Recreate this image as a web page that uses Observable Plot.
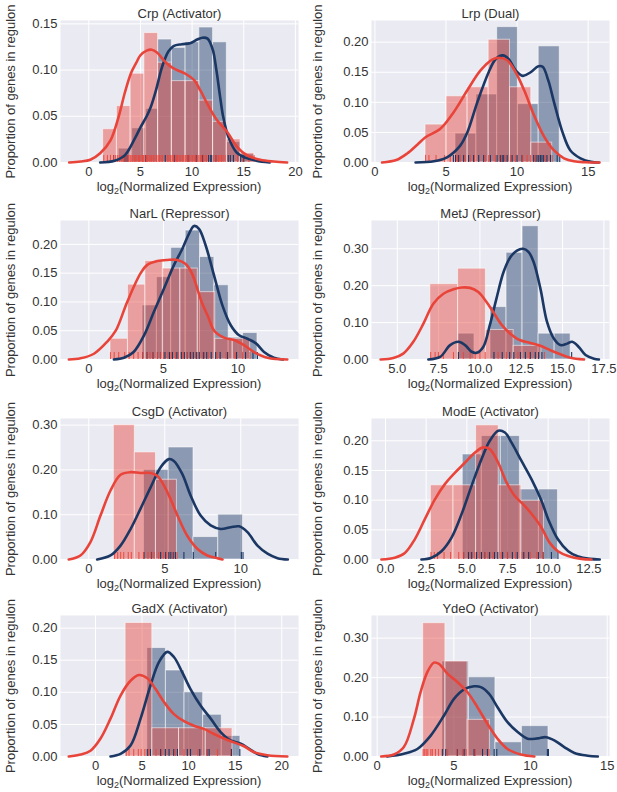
<!DOCTYPE html>
<html>
<head>
<meta charset="utf-8">
<script src="https://cdn.jsdelivr.net/npm/d3@7"></script>
<script src="https://cdn.jsdelivr.net/npm/@observablehq/plot@0.6"></script>
<style>
  body { margin: 0; background: #fff; }
  #chart { position: relative; width: 617px; height: 792px; background: #fff; overflow: hidden; }
  .panel { position: absolute; }
</style>
</head>
<body>
<div id="chart"></div>
<script>
// ---------- Crp (Activator) ----------
const crpXTicks = [0, 5, 10, 15, 20];
const crpYTicks = [0, 0.05, 0.10, 0.15];
const crpRedEdges = [1.39, 2.72, 4.05, 5.38, 6.71, 8.04, 9.37, 10.7, 12.03, 13.36, 14.69, 16.02];
const crpRedHeights = [0.036, 0.061, 0.096, 0.140, 0.108, 0.088, 0.088, 0.067, 0.044, 0.025, 0.010];
const crpBlueEdges = [2.9, 4.2, 5.55, 6.71, 8.04, 9.37, 10.7, 12.03, 13.36, 14.69, 16.02];
const crpBlueHeights = [0.015, 0.037, 0.058, 0.133, 0.124, 0.130, 0.146, 0.130, 0.022, 0.009];
const crpRedKde = [[-1.9,0],[-0.8,0.001],[0.15,0.003],[1.1,0.010],[2.1,0.024],[2.9,0.05],[3.5,0.076],[4.1,0.097],[4.6,0.108],[5.0,0.116],[5.6,0.121],[6.1,0.122],[6.6,0.119],[7.3,0.110],[7.9,0.104],[8.55,0.100],[9.35,0.096],[10.2,0.089],[10.8,0.078],[11.45,0.064],[12.4,0.046],[13.4,0.033],[14.35,0.017],[15.3,0.008],[16.6,0.003],[17.9,0.001],[19.2,0]];
const crpBlueKde = [[1.1,0],[2.5,0.002],[3.5,0.008],[4.5,0.027],[5.0,0.038],[5.6,0.05],[6.0,0.06],[6.5,0.078],[7.0,0.10],[7.3,0.11],[7.7,0.12],[8.2,0.126],[9.0,0.128],[9.8,0.129],[10.5,0.133],[11.0,0.135],[11.5,0.134],[12.0,0.122],[12.35,0.10],[12.7,0.072],[13.0,0.05],[13.5,0.028],[14.3,0.011],[15.2,0.005],[16.2,0.002],[17.5,0]];
const crpRedRug = [1.45, 1.8, 2.1, 2.4, 2.6, 2.8, 3.0, 3.2, 3.35, 3.5, 3.7, 3.85, 4.0, 4.1, 4.25, 4.4, 4.5, 4.65, 4.8, 4.9, 5.05, 5.2, 5.3, 5.45, 5.6, 5.7, 5.85, 6.0, 6.1, 6.25, 6.4, 6.55, 6.7, 6.85, 7.0, 7.15, 7.6, 7.75, 7.9, 8.05, 8.2, 8.35, 8.5, 8.6, 8.75, 8.9, 9.05, 9.2, 9.35, 9.5, 9.6, 9.75, 9.9, 10.05, 10.2, 10.35, 10.5, 10.65, 10.8, 10.95, 11.1, 11.25, 11.4, 12.1, 12.25, 12.4, 12.55, 12.7, 12.85, 13.0, 13.2, 14.4, 14.9, 15.5, 16.0];
const crpBlueRug = [2.4, 3.5, 3.7, 5.5, 7.4, 8.3, 9.6, 10.4, 11.0, 11.6, 11.8, 11.9, 12.3, 13.5, 13.7, 14.0, 14.7, 15.0];

// ---------- Lrp (Dual) ----------
const lrpXTicks = [0, 5, 10, 15];
const lrpYTicks = [0, 0.05, 0.10, 0.15, 0.20];
const lrpRedEdges = [3.56, 5.04, 6.52, 8.0, 9.5, 11.0, 12.47];
const lrpRedHeights = [0.063, 0.110, 0.125, 0.204, 0.125, 0.033];
const lrpBlueEdges = [5.67, 7.14, 8.6, 10.06, 11.52, 13.0];
const lrpBlueHeights = [0.048, 0.113, 0.225, 0.097, 0.193];
const lrpRedKde = [[0.5,0],[1.5,0.004],[2.27,0.015],[3.0,0.03],[3.56,0.042],[4.6,0.056],[5.55,0.084],[6.5,0.12],[7.43,0.153],[8.25,0.171],[8.7,0.174],[9.3,0.170],[9.9,0.15],[10.5,0.12],[11.2,0.078],[11.9,0.043],[12.6,0.02],[13.3,0.007],[14.0,0.002],[14.8,0.0005],[15.8,0]];
const lrpBlueKde = [[2.86,0],[4.15,0.002],[5.1,0.009],[6.0,0.028],[6.5,0.05],[7.2,0.10],[8.0,0.15],[8.5,0.172],[9.0,0.178],[9.4,0.172],[9.9,0.153],[10.4,0.144],[10.95,0.150],[11.5,0.160],[11.8,0.159],[12.2,0.136],[12.6,0.10],[13.2,0.05],[13.75,0.02],[14.46,0.007],[15.2,0.001],[15.75,0]];
const lrpRedRug = [3.56, 3.8, 4.3, 4.9, 5.3, 5.8, 6.0, 6.36, 6.7, 7.0, 7.76, 8.0, 8.47, 8.9, 9.2, 9.53, 9.88, 10.4, 10.7, 10.95, 11.3, 12.0, 12.47];
const lrpBlueRug = [5.52, 5.67, 5.89, 6.24, 6.59, 6.94, 7.3, 7.65, 8.12, 8.59, 8.82, 8.95, 9.06, 9.3, 9.65, 10.0, 10.35, 11.17, 11.3, 11.4, 11.52, 11.64, 11.75, 11.87, 12.1, 12.35, 12.82, 13.0];

// ---------- NarL (Repressor) ----------
const narlXTicks = [0, 5, 10];
const narlYTicks = [0, 0.05, 0.10, 0.15, 0.20];
const narlRedEdges = [1.45, 2.62, 3.79, 4.96, 6.13, 7.3, 8.47, 9.64, 10.81];
const narlRedHeights = [0.036, 0.130, 0.171, 0.158, 0.158, 0.117, 0.036, 0.036];
const narlBlueEdges = [3.6, 4.56, 5.52, 6.49, 7.45, 8.41, 9.37, 10.34, 11.3];
const narlBlueHeights = [0.094, 0.143, 0.194, 0.224, 0.178, 0.129, 0.038, 0.046];
const narlRedKde = [[-1.34,0],[-0.56,0.002],[0.34,0.010],[1.23,0.031],[1.8,0.05],[2.57,0.10],[3.47,0.15],[3.9,0.164],[4.59,0.171],[5.26,0.173],[5.93,0.173],[6.49,0.166],[6.9,0.15],[7.56,0.10],[8.0,0.074],[8.4,0.05],[9.06,0.038],[9.73,0.034],[10.4,0.025],[11.07,0.013],[11.97,0.003],[13.3,0]];
const narlBlueKde = [[1.68,0],[2.35,0.003],[3.0,0.013],[3.7,0.042],[4.36,0.083],[5.03,0.123],[5.7,0.164],[6.26,0.192],[6.7,0.218],[7.05,0.232],[7.38,0.227],[7.83,0.198],[8.39,0.146],[8.95,0.094],[9.5,0.06],[10.07,0.042],[10.63,0.036],[11.2,0.028],[11.74,0.013],[12.4,0.003],[13.0,0]];
const narlRedRug = [1.45, 1.7, 2.0, 2.4, 2.7, 3.0, 3.3, 3.6, 3.9, 4.1, 4.3, 4.6, 4.8, 5.0, 5.3, 5.5, 5.8, 6.0, 6.3, 6.6, 6.9, 7.3, 7.6, 8.0, 8.6, 9.2, 9.8, 10.3, 10.8];
const narlBlueRug = [3.6, 3.9, 4.3, 4.6, 4.8, 5.1, 5.4, 5.6, 5.9, 6.2, 6.4, 6.6, 6.8, 7.0, 7.2, 7.4, 7.7, 7.9, 8.2, 8.5, 8.8, 9.3, 9.9, 10.5, 11.0, 11.3];

// ---------- MetJ (Repressor) ----------
const metjXTicks = [5, 7.5, 10, 12.5, 15, 17.5];
const metjYTicks = [0, 0.10, 0.20, 0.30];
const metjRedEdges = [7.0, 8.68, 10.36, 12.04, 13.72];
const metjRedHeights = [0.204, 0.246, 0.080, 0.037];
const metjBlueEdges = [8.7, 9.67, 10.64, 11.61, 12.58, 13.55, 14.52, 15.49];
const metjBlueHeights = [0.07, 0, 0.142, 0.289, 0.361, 0.07, 0.07];
const metjRedKde = [[3.99,0],[4.76,0.004],[5.36,0.016],[5.97,0.048],[6.58,0.097],[7.18,0.151],[7.79,0.178],[8.4,0.19],[8.9,0.195],[9.4,0.194],[9.9,0.183],[10.4,0.156],[10.8,0.129],[11.33,0.093],[11.84,0.07],[12.44,0.052],[13.05,0.045],[13.66,0.037],[14.26,0.025],[14.87,0.014],[15.48,0.005],[16.3,0]];
const metjBlueKde = [[6.88,0],[7.59,0.007],[8.2,0.039],[8.7,0.048],[9.1,0.039],[9.5,0.021],[9.8,0.018],[10.2,0.034],[10.6,0.093],[11.0,0.165],[11.43,0.237],[11.84,0.277],[12.24,0.295],[12.6,0.30],[12.95,0.291],[13.25,0.264],[13.66,0.192],[14.06,0.102],[14.47,0.057],[14.87,0.039],[15.28,0.043],[15.58,0.048],[15.98,0.034],[16.39,0.012],[16.9,0.002],[17.2,0]];
const metjRedRug = [7.02, 7.29, 7.49, 7.79, 8.4, 9.0, 9.41, 9.71, 10.0, 10.32, 11.1, 11.6, 12.3, 13.0, 13.9];
const metjBlueRug = [8.7, 10.85, 11.35, 11.8, 12.05, 12.45, 12.75, 13.05, 13.35, 13.55, 13.75, 15.55];

// ---------- CsgD (Activator) ----------
const csgdXTicks = [0, 5, 10];
const csgdYTicks = [0, 0.10, 0.20, 0.30];
const csgdRedEdges = [1.65, 3.03, 4.42, 5.8];
const csgdRedHeights = [0.30, 0.239, 0.178];
const csgdBlueEdges = [3.63, 5.26, 6.89, 8.52, 10.15];
const csgdBlueHeights = [0.20, 0.25, 0.05, 0.10];
const csgdRedKde = [[-1.32,0],[-0.55,0.009],[0.11,0.039],[0.77,0.098],[1.43,0.154],[2.09,0.189],[2.75,0.195],[3.4,0.193],[4.07,0.193],[4.5,0.187],[4.95,0.165],[5.38,0.135],[5.93,0.091],[6.48,0.053],[7.14,0.024],[7.8,0.009],[8.46,0.003],[8.8,0]];
const csgdBlueKde = [[0.55,0],[1.43,0.009],[2.09,0.031],[2.75,0.068],[3.4,0.113],[4.07,0.161],[4.73,0.206],[5.27,0.224],[5.6,0.22],[6.15,0.191],[6.7,0.143],[7.36,0.098],[8.02,0.076],[8.68,0.068],[9.34,0.072],[9.89,0.074],[10.44,0.061],[11.1,0.031],[11.76,0.013],[12.42,0.003],[13.1,0]];
const csgdRedRug = [1.7, 1.9, 2.1, 2.3, 2.6, 2.8, 3.3, 3.6, 3.9, 4.1, 4.3, 4.6, 4.9, 5.1, 5.5, 5.8];
const csgdBlueRug = [3.63, 4.13, 4.73, 5.05, 5.27, 5.4, 5.55, 5.7, 6.26, 6.88, 8.35, 10.04, 10.15];

// ---------- ModE (Activator) ----------
const modeXTicks = [0, 2.5, 5, 7.5, 10, 12.5];
const modeYTicks = [0, 0.05, 0.10, 0.15, 0.20];
const modeRedEdges = [2.79, 4.18, 5.57, 6.96, 8.35, 9.74];
const modeRedHeights = [0.125, 0.125, 0.226, 0.125, 0.099];
const modeBlueEdges = [4.75, 5.92, 7.09, 8.26, 9.43, 10.6];
const modeBlueHeights = [0.177, 0.208, 0.208, 0.118, 0.118];
const modeRedKde = [[-0.25,0],[0.57,0.003],[1.19,0.011],[1.8,0.034],[2.42,0.068],[3.03,0.101],[3.65,0.127],[4.26,0.146],[4.88,0.163],[5.49,0.18],[6.0,0.189],[6.41,0.186],[6.93,0.163],[7.44,0.13],[7.95,0.107],[8.57,0.09],[9.18,0.07],[9.59,0.054],[10.1,0.028],[10.6,0.014],[11.23,0.006],[12.05,0.001],[12.66,0]];
const modeBlueKde = [[2.21,0],[2.83,0.003],[3.44,0.014],[4.06,0.037],[4.67,0.076],[5.29,0.124],[5.9,0.169],[6.41,0.2],[6.93,0.217],[7.34,0.214],[7.75,0.197],[8.36,0.166],[8.98,0.135],[9.59,0.099],[10.0,0.068],[10.6,0.034],[11.23,0.014],[11.84,0.005],[12.56,0.001],[13.17,0]];
const modeRedRug = [2.8, 3.0, 3.2, 3.6, 4.0, 4.5, 4.8, 5.2, 5.5, 5.8, 6.1, 6.3, 6.6, 7.1, 7.5, 8.0, 8.4, 8.9, 9.3, 9.7];
const modeBlueRug = [4.8, 5.1, 5.3, 5.6, 5.9, 6.1, 6.4, 6.7, 6.9, 7.2, 7.5, 7.8, 8.1, 8.5, 8.8, 9.4, 9.7, 10.2, 10.6];

// ---------- GadX (Activator) ----------
const gadxXTicks = [0, 5, 10, 15, 20];
const gadxYTicks = [0, 0.05, 0.10, 0.15, 0.20];
const gadxRedEdges = [3.23, 6.1, 8.97, 11.84, 14.71];
const gadxRedHeights = [0.208, 0.044, 0.044, 0.044];
const gadxBlueEdges = [5.56, 7.56, 9.56, 11.56, 13.56, 15.56];
const gadxBlueHeights = [0.169, 0.134, 0.10, 0.065, 0.032];
const gadxRedKde = [[-2.87,0],[-1.6,0.003],[-0.54,0.009],[0.54,0.028],[1.61,0.059],[2.69,0.095],[3.76,0.118],[4.66,0.127],[5.56,0.122],[6.45,0.105],[7.35,0.085],[8.42,0.066],[9.5,0.055],[10.57,0.048],[11.65,0.043],[12.72,0.035],[13.8,0.028],[14.87,0.022],[15.95,0.016],[17.0,0.007],[18.46,0.002],[20.6,0]];
const gadxBlueKde = [[1.61,0],[2.69,0.004],[3.76,0.017],[4.84,0.059],[5.91,0.111],[6.81,0.147],[7.7,0.163],[8.42,0.155],[9.32,0.131],[10.2,0.105],[11.3,0.079],[12.37,0.059],[13.44,0.038],[14.5,0.025],[15.6,0.02],[16.5,0.012],[17.4,0.004],[18.46,0]];
const gadxRedRug = [3.3, 3.6, 4.1, 4.6, 4.9, 5.3, 5.7, 6.5, 7.1, 8.6, 9.5, 11.0, 12.0, 13.1, 14.5];
const gadxBlueRug = [5.56, 5.9, 7.0, 7.5, 7.9, 8.4, 8.8, 9.86, 10.2, 11.2, 12.0, 12.2, 14.6, 15.5];

// ---------- YdeO (Activator) ----------
const ydeoXTicks = [0, 5, 10, 15];
const ydeoYTicks = [0, 0.10, 0.20, 0.30];
const ydeoRedEdges = [3.0, 4.45, 5.9, 7.35];
const ydeoRedHeights = [0.338, 0.241, 0.093];
const ydeoBlueEdges = [4.25, 5.98, 7.71, 9.44, 11.17];
const ydeoBlueHeights = [0.241, 0.201, 0.036, 0.077];
const ydeoRedKde = [[0.26,0],[1.09,0.005],[1.74,0.024],[2.4,0.096],[2.83,0.163],[3.27,0.214],[3.7,0.238],[4.03,0.235],[4.58,0.21],[5.23,0.189],[5.89,0.163],[6.54,0.125],[7.19,0.083],[7.85,0.045],[8.5,0.019],[9.37,0.005],[10.25,0]];
const ydeoBlueKde = [[0.65,0],[1.74,0.007],[2.62,0.019],[3.49,0.053],[4.36,0.104],[5.01,0.146],[5.67,0.17],[6.32,0.178],[6.76,0.176],[7.3,0.159],[7.85,0.125],[8.5,0.087],[9.16,0.062],[9.81,0.045],[10.46,0.046],[11.0,0.049],[11.55,0.041],[12.2,0.024],[12.86,0.009],[13.73,0.002],[14.39,0]];
const ydeoRedRug = [3.0, 3.1, 3.2, 3.3, 3.5, 3.6, 3.8, 4.0, 4.6, 5.2, 5.56, 5.8, 6.4, 7.3];
const ydeoBlueRug = [4.25, 4.47, 5.23, 5.67, 6.32, 6.87, 7.19, 7.63, 7.8, 11.1, 11.17];

const titles = ["Crp (Activator)", "Lrp (Dual)", "NarL (Repressor)", "MetJ (Repressor)", "CsgD (Activator)", "ModE (Activator)", "GadX (Activator)", "YdeO (Activator)"];
const yLabel = "Proportion of genes in regulon";

// ---------- styling / layout ----------
const RED = "#e9443a";
const BLUE = "#1b3764";
const BG = "#eaeaf2";
const TXT = "#333333";
const FONT = '"Liberation Sans", Arial, Helvetica, sans-serif';

const rowTop = [0, 197, 395, 592];
const rowH = [197, 198, 197, 200];
const rowMT = [20, 23, 23, 23];
const rowMB = [35, 36, 33, 36];
const colLeft = [0, 308];
const colW = [308, 309];
const colML = [60, 63];
const colMR = [10, 8];
const colYLabDx = [-50, -54];

const panels = [
  {t: 0, r: 0, c: 0, xd: [-2.74, 20.3], ym: 0.1536, xt: crpXTicks, yt: crpYTicks, xf: "d", re: crpRedEdges, rh: crpRedHeights, be: crpBlueEdges, bh: crpBlueHeights, rk: crpRedKde, bk: crpBlueKde, rr: crpRedRug, br: crpBlueRug},
  {t: 1, r: 0, c: 1, xd: [-0.24, 16.5], ym: 0.236, xt: lrpXTicks, yt: lrpYTicks, xf: "d", re: lrpRedEdges, rh: lrpRedHeights, be: lrpBlueEdges, bh: lrpBlueHeights, rk: lrpRedKde, bk: lrpBlueKde, rr: lrpRedRug, br: lrpBlueRug},
  {t: 2, r: 1, c: 0, xd: [-1.9, 14.05], ym: 0.2415, xt: narlXTicks, yt: narlYTicks, xf: "d", re: narlRedEdges, rh: narlRedHeights, be: narlBlueEdges, bh: narlBlueHeights, rk: narlRedKde, bk: narlBlueKde, rr: narlRedRug, br: narlBlueRug},
  {t: 3, r: 1, c: 1, xd: [3.44, 17.84], ym: 0.3765, xt: metjXTicks, yt: metjYTicks, xf: ".1f", re: metjRedEdges, rh: metjRedHeights, be: metjBlueEdges, bh: metjBlueHeights, rk: metjRedKde, bk: metjBlueKde, rr: metjRedRug, br: metjBlueRug},
  {t: 4, r: 2, c: 0, xd: [-1.86, 13.8], ym: 0.3147, xt: csgdXTicks, yt: csgdYTicks, xf: "d", re: csgdRedEdges, rh: csgdRedHeights, be: csgdBlueEdges, bh: csgdBlueHeights, rk: csgdRedKde, bk: csgdBlueKde, rr: csgdRedRug, br: csgdBlueRug},
  {t: 5, r: 2, c: 1, xd: [-0.86, 13.77], ym: 0.2376, xt: modeXTicks, yt: modeYTicks, xf: ".1f", re: modeRedEdges, rh: modeRedHeights, be: modeBlueEdges, bh: modeBlueHeights, rk: modeRedKde, bk: modeBlueKde, rr: modeRedRug, br: modeBlueRug},
  {t: 6, r: 3, c: 0, xd: [-3.76, 21.8], ym: 0.2197, xt: gadxXTicks, yt: gadxYTicks, xf: "d", re: gadxRedEdges, rh: gadxRedHeights, be: gadxBlueEdges, bh: gadxBlueHeights, rk: gadxRedKde, bk: gadxBlueKde, rr: gadxRedRug, br: gadxBlueRug},
  {t: 7, r: 3, c: 1, xd: [-0.37, 15.15], ym: 0.3575, xt: ydeoXTicks, yt: ydeoYTicks, xf: "d", re: ydeoRedEdges, rh: ydeoRedHeights, be: ydeoBlueEdges, bh: ydeoBlueHeights, rk: ydeoRedKde, bk: ydeoBlueKde, rr: ydeoRedRug, br: ydeoBlueRug}
];

function bins(edges, heights) {
  return heights.map((h, i) => ({x1: edges[i], x2: edges[i + 1], y: h}));
}

const chart = document.getElementById("chart");

for (const p of panels) {
  const W = colW[p.c], H = rowH[p.r];
  const mt = rowMT[p.r], mb = rowMB[p.r], ml = colML[p.c], mr = colMR[p.c];
  const rugH = p.ym * 0.05;
  const histStyle = {stroke: "#ffffff", strokeOpacity: 0.55, strokeWidth: 1, fillOpacity: 0.45};
  const svg = Plot.plot({
    width: W, height: H,
    marginTop: mt, marginBottom: mb, marginLeft: ml, marginRight: mr,
    style: {fontFamily: FONT, fontSize: "13px", background: "transparent", color: TXT, overflow: "visible"},
    x: {domain: p.xd},
    y: {domain: [0, p.ym]},
    marks: [
      Plot.frame({fill: BG, stroke: "none"}),
      Plot.gridX(p.xt, {stroke: "#ffffff", strokeOpacity: 1, strokeWidth: 1}),
      Plot.gridY(p.yt, {stroke: "#ffffff", strokeOpacity: 1, strokeWidth: 1}),
      Plot.axisX(p.xt, {tickSize: 0, tickPadding: 4, tickFormat: d3.format(p.xf), label: null, fill: TXT, fontSize: 13}),
      Plot.axisY(p.yt, {tickSize: 0, tickPadding: 3, tickFormat: d3.format(".2f"), label: null, fill: TXT, fontSize: 13}),
      Plot.rect(bins(p.be, p.bh), {x1: "x1", x2: "x2", y1: 0, y2: "y", fill: BLUE, ...histStyle}),
      Plot.rect(bins(p.re, p.rh), {x1: "x1", x2: "x2", y1: 0, y2: "y", fill: RED, ...histStyle}),
      Plot.ruleX(p.br, {x: d => d, y1: 0, y2: rugH, stroke: BLUE, strokeWidth: 1.1}),
      Plot.ruleX(p.rr, {x: d => d, y1: 0, y2: rugH, stroke: RED, strokeWidth: 1.1, strokeOpacity: 0.85}),
      Plot.line(p.bk, {x: d => d[0], y: d => d[1], stroke: BLUE, strokeWidth: 2.6, curve: "catmull-rom"}),
      Plot.line(p.rk, {x: d => d[0], y: d => d[1], stroke: RED, strokeWidth: 2.6, curve: "catmull-rom"}),
      Plot.text([titles[p.t]], {text: d => d, frameAnchor: "top", lineAnchor: "bottom", dy: -3, fill: TXT, fontSize: 13}),
      Plot.text([yLabel], {text: d => d, frameAnchor: "left", textAnchor: "middle", lineAnchor: "middle", rotate: -90, dx: colYLabDx[p.c], fill: TXT, fontSize: 13})
    ]
  });
  // x axis label with subscript
  const cx = ml + (W - ml - mr) / 2;
  const lab = d3.select(svg).append("text")
    .attr("x", cx).attr("y", H - mb + 28.5)
    .attr("text-anchor", "middle")
    .attr("font-family", FONT).attr("font-size", 13).attr("fill", TXT);
  lab.append("tspan").text("log");
  lab.append("tspan").attr("font-size", 9).attr("dy", 3).text("2");
  lab.append("tspan").attr("dy", -3).text("(Normalized Expression)");

  const div = document.createElement("div");
  div.className = "panel";
  div.style.left = colLeft[p.c] + "px";
  div.style.top = rowTop[p.r] + "px";
  div.style.width = W + "px";
  div.style.height = H + "px";
  div.appendChild(svg);
  chart.appendChild(div);
}
</script>
</body>
</html>
